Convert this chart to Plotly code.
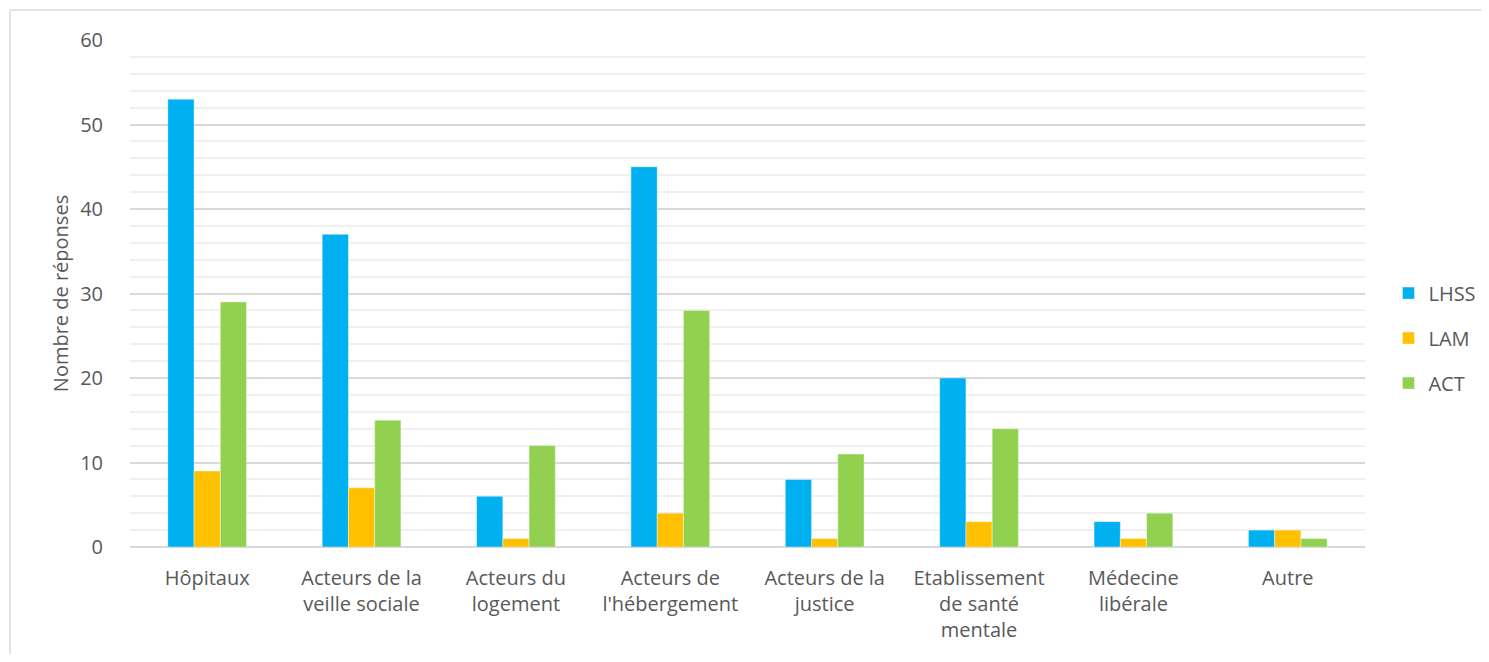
import plotly.graph_objects as go


# =====================================================
# DATA
# =====================================================

categories = [
    "Hôpitaux",
    "Acteurs de la<br>veille sociale",
    "Acteurs du<br>logement",
    "Acteurs de<br>l'hébergement",
    "Acteurs de la<br>justice",
    "Etablissement<br>de santé<br>mentale",
    "Médecine<br>libérale",
    "Autre",
]

lhss = [53, 37, 6, 45, 8, 20, 3, 2]
lam = [9, 7, 1, 4, 1, 3, 1, 2]
act = [29, 15, 12, 28, 11, 14, 4, 1]

series = [
    ("LHSS", lhss, "#00B0F0"),
    ("LAM", lam, "#FFC000"),
    ("ACT", act, "#92D050"),
]

FONT = "Open Sans"
TEXT = "#595959"


# =====================================================
# BAR CHART
# =====================================================

fig = go.Figure()

for name, values, color in series:

    fig.add_trace(

        go.Bar(

            x=categories,

            y=values,

            name=name,

            legendgroup=name,

            marker=dict(color=color, line=dict(color="rgba(255,255,255,0.4)", width=1))

        )

    )

# page body has an 8px margin, so the figure is sized to fit inside it
fig.update_layout(

    template="plotly_white",

    width=1473,

    height=646,

    margin=dict(l=122, r=116, t=32, b=107, autoexpand=False),

    barmode="group",

    bargap=0.49,

    bargroupgap=0,

    font=dict(family=FONT, size=20, color=TEXT),

    plot_bgcolor="white",

    paper_bgcolor="white",

    legend=dict(

        x=1.019,

        y=0.412,

        xanchor="left",

        yanchor="middle",

        tracegroupgap=16,

        font=dict(size=20, color=TEXT),

        itemwidth=30

    )

)

fig.update_yaxes(

    range=[0, 60],

    dtick=10,

    showgrid=True,

    gridcolor="#d9d9d9",

    gridwidth=1.5,

    zeroline=True,

    zerolinecolor="#d9d9d9",

    zerolinewidth=2,

    minor=dict(dtick=2, showgrid=True, gridcolor="#f0f0f0", gridwidth=2),

    ticks="",

    ticklabelstandoff=26,

    tickfont=dict(size=20, color=TEXT),

    title=dict(text="Nombre de réponses", font=dict(size=20, color=TEXT), standoff=6)

)

fig.update_xaxes(

    showgrid=False,

    showline=False,

    ticks="",

    tickangle=0,

    ticklabelstandoff=17,

    tickfont=dict(size=20, color=TEXT)

)

# outer chart frame (only top and left edges are inside the picture)
frame = dict(type="line", xref="paper", yref="paper", line=dict(color="#d9d9d9", width=1.5), layer="below")

fig.add_shape(frame, x0=-0.0972, y0=1.0592, x1=1.3, y1=1.0592)

fig.add_shape(frame, x0=-0.0972, y0=-0.5, x1=-0.0972, y1=1.0592)

fig.write_html("out.html")
